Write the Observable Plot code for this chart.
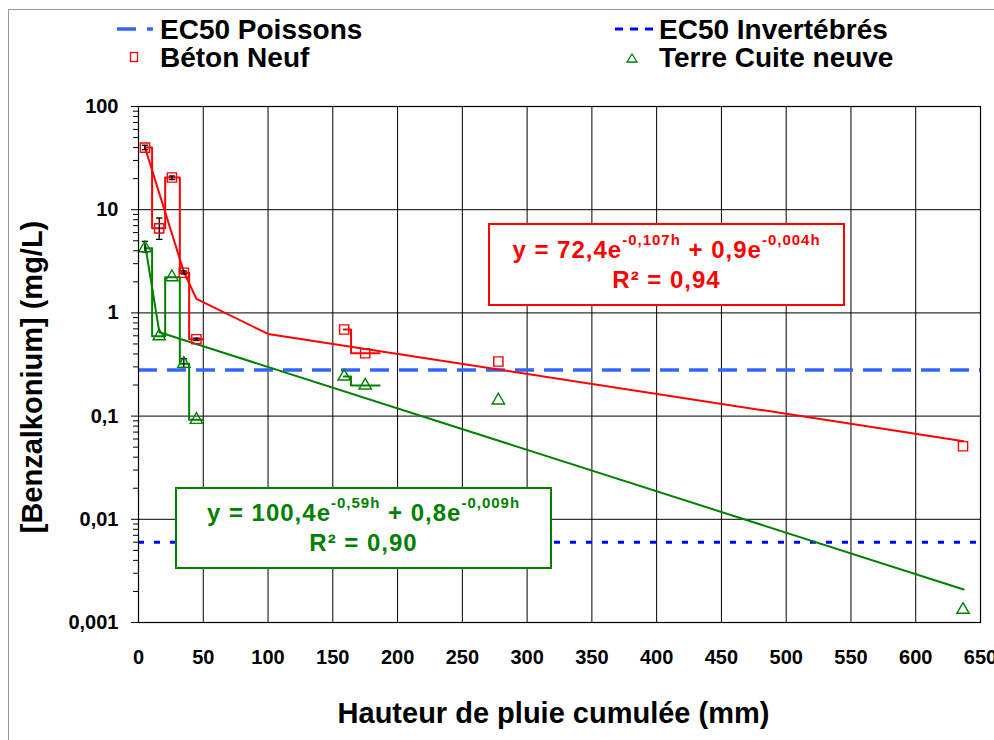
<!DOCTYPE html>
<html><head><meta charset="utf-8">
<script src="https://cdn.jsdelivr.net/npm/d3@7"></script>
<script src="https://cdn.jsdelivr.net/npm/@observablehq/plot@0.6"></script>
<style>
body{margin:0;background:#fff;}
#wrap{position:relative;width:994px;height:740px;overflow:hidden;background:#fff;font-family:"Liberation Sans",Arial,sans-serif;font-weight:bold;}
#border{position:absolute;left:8px;top:9px;width:1100px;height:900px;border-left:1.5px solid #9a9a9a;border-top:1.5px solid #9a9a9a;z-index:5;pointer-events:none;}
#legend{position:relative;height:96px;}
.lg{position:absolute;font-size:28px;line-height:28px;white-space:nowrap;color:#000;}
.eq{position:absolute;background:#fff;border:2px solid;box-sizing:border-box;text-align:center;font-size:24px;line-height:30px;letter-spacing:1px;display:flex;flex-direction:column;justify-content:center;z-index:4;white-space:nowrap;}
.eq sup{font-size:15px;vertical-align:baseline;position:relative;top:-13px;line-height:0;}
</style></head>
<body>
<div id="wrap">
  <div id="border"></div>
  <div id="legend">
    <svg width="994" height="96" style="position:absolute;left:0;top:0">
      <line x1="117" x2="153" y1="29" y2="29" stroke="#3366ff" stroke-width="3.5" stroke-dasharray="19,11"/>
      <line x1="615" x2="654" y1="29" y2="29" stroke="#0000ff" stroke-width="3" stroke-dasharray="8,7"/>
      <rect x="130.5" y="52.5" width="7" height="9" fill="none" stroke="#ff0000" stroke-width="1.3"/>
      <path d="M632,54 L637,62 L627,62 Z" fill="none" stroke="#008000" stroke-width="1.3"/>
    </svg>
    <span class="lg" style="left:160px;top:16px">EC50 Poissons</span>
    <span class="lg" style="left:659px;top:16px">EC50 Invertébrés</span>
    <span class="lg" style="left:160px;top:44px">Béton Neuf</span>
    <span class="lg" style="left:659px;top:44px">Terre Cuite neuve</span>
  </div>
  <div id="chart"></div>
  <div class="eq" style="left:488px;top:223px;width:357px;height:83px;color:#ff0000;border-color:#ff0000;">
    <div>y = 72,4e<sup>-0,107h</sup> + 0,9e<sup>-0,004h</sup></div>
    <div>R² = 0,94</div>
  </div>
  <div class="eq" style="left:175px;top:487px;width:377px;height:82px;color:#008000;border-color:#008000;">
    <div>y = 100,4e<sup>-0,59h</sup> + 0,8e<sup>-0,009h</sup></div>
    <div>R² = 0,90</div>
  </div>
</div>
<script>
// ---- data ----
const hauteur    = [5, 16, 25.8, 35, 44.7, 158.8, 175, 277.8, 636.5];
const betonNeuf  = [40, 6.6, 20.5, 2.45, 0.556, 0.69, 0.406, 0.338, 0.051];
const terreCuite = [4.24, 0.594, 2.22, 0.321, 0.092, 0.242, 0.198, 0.142, 0.00133];

const betonErrLow  = [38.2, 5.16, 19.6, 2.38, 0.54, null, null, null, null];
const betonErrHigh = [42.1, 8.3, 21.2, 2.55, 0.57, null, null, null, null];
const terreErrLow  = [3.89, null, null, 0.296, null, null, null, null, null];
const terreErrHigh = [4.93, null, null, 0.361, null, null, null, null, null];

const stepStart = [5, 10.5, 20.6, 31.9, 39.1, 158.5, 164.1];
const stepEnd   = [10.5, 20.6, 31.9, 39.1, 49.8, 164.1, 186.1];
const stepGroup = [1, 1, 1, 1, 1, 2, 2];

const betonFitX = [5, 35, 44.7, 100, 637];
const betonFitY = [40, 2.5, 1.37, 0.626, 0.0571];
const terreFitX = [5.2, 16.1, 637];
const terreFitY = [4.5, 0.65, 0.00209];

const ec50Poissons = 0.28;
const ec50Invertebres = 0.006;

const xTicks = [0, 50, 100, 150, 200, 250, 300, 350, 400, 450, 500, 550, 600, 650];
const xTickLabels = ["0","50","100","150","200","250","300","350","400","450","500","550","600","650"];
const yTicks = [0.001, 0.01, 0.1, 1, 10, 100];
const yTickLabels = ["0,001", "0,01", "0,1", "1", "10", "100"];
const xTitle = "Hauteur de pluie cumulée (mm)";
const yTitle = "[Benzalkonium] (mg/L)";

// ---- derived tables ----
const RED = "#ff0000", GREEN = "#008000";
const pts = (ys) => hauteur.map((x, i) => ({x, y: ys[i]}));
const steps = (ys) => {
  const out = [];
  stepStart.forEach((s, i) => {
    out.push({x: s, y: ys[i], g: stepGroup[i]});
    out.push({x: stepEnd[i], y: ys[i], g: stepGroup[i]});
  });
  return out;
};
const errs = (lo, hi) => hauteur.map((x, i) => ({x, lo: lo[i], hi: hi[i]})).filter(d => d.lo != null);
const fit = (xs, ys) => xs.map((x, i) => ({x, y: ys[i]}));
const yMinor = [];
yTicks.slice(0, -1).forEach(d => { for (let m = 2; m <= 9; m++) yMinor.push(m * d); });

const capSymbol = {draw(ctx, size) { const w = Math.sqrt(size / Math.PI); ctx.moveTo(-w, 0); ctx.lineTo(w, 0); }};

const betonErr = errs(betonErrLow, betonErrHigh);
const terreErr = errs(terreErrLow, terreErrHigh);

const chart = Plot.plot({
  width: 994, height: 644,
  marginLeft: 138, marginRight: 14, marginTop: 10, marginBottom: 118,
  x: {domain: [0, 650], label: null},
  y: {type: "log", domain: [0.001, 100], label: null},
  style: {fontFamily: "'Liberation Sans', Arial, sans-serif", fontSize: "20px", fontWeight: "bold", background: "white", color: "black", overflow: "visible"},
  marks: [
    Plot.gridX(xTicks, {stroke: "black", strokeOpacity: 1, strokeWidth: 1}),
    Plot.gridY(yTicks, {stroke: "black", strokeOpacity: 1, strokeWidth: 1}),
    Plot.ruleY([ec50Poissons], {stroke: "#3366ff", strokeWidth: 3.5, strokeDasharray: "19,10"}),
    Plot.ruleY([ec50Invertebres], {stroke: "#0000ff", strokeWidth: 3, strokeDasharray: "6,10"}),
    Plot.line(fit(betonFitX, betonFitY), {x: "x", y: "y", stroke: RED, strokeWidth: 2}),
    Plot.line(fit(terreFitX, terreFitY), {x: "x", y: "y", stroke: GREEN, strokeWidth: 2}),
    Plot.line(steps(betonNeuf), {x: "x", y: "y", z: "g", stroke: RED, strokeWidth: 2}),
    Plot.line(steps(terreCuite), {x: "x", y: "y", z: "g", stroke: GREEN, strokeWidth: 2}),
    Plot.ruleX(betonErr, {x: "x", y1: "lo", y2: "hi", stroke: "black", strokeWidth: 1.3}),
    Plot.ruleX(terreErr, {x: "x", y1: "lo", y2: "hi", stroke: "black", strokeWidth: 1.3}),
    Plot.dot(betonErr, {x: "x", y: "lo", symbol: capSymbol, r: 3.2, stroke: "black", strokeWidth: 1.3, fill: "none"}),
    Plot.dot(betonErr, {x: "x", y: "hi", symbol: capSymbol, r: 3.2, stroke: "black", strokeWidth: 1.3, fill: "none"}),
    Plot.dot(terreErr, {x: "x", y: "lo", symbol: capSymbol, r: 3.2, stroke: "black", strokeWidth: 1.3, fill: "none"}),
    Plot.dot(terreErr, {x: "x", y: "hi", symbol: capSymbol, r: 3.2, stroke: "black", strokeWidth: 1.3, fill: "none"}),
    Plot.dot(pts(betonNeuf), {x: "x", y: "y", symbol: "square", r: 5.2, stroke: RED, strokeWidth: 1.4, fill: "none"}),
    Plot.dot(pts(terreCuite), {x: "x", y: "y", symbol: "triangle", r: 4.6, stroke: GREEN, strokeWidth: 1.4, fill: "none"}),
    Plot.frame({stroke: "black", strokeWidth: 1.2}),
    Plot.axisY({ticks: yMinor, tickSize: 5, tickFormat: () => "", stroke: "black"}),
    Plot.axisY({ticks: yTicks, tickSize: 7, tickPadding: 13, tickFormat: d => yTickLabels[yTicks.indexOf(d)], stroke: "black", fill: "black", fontSize: 20}),
    Plot.axisX({ticks: xTicks, tickSize: 0, tickPadding: 27, tickFormat: d => xTickLabels[xTicks.indexOf(d)], fill: "black", fontSize: 20}),
    Plot.text([xTitle], {text: d => d, frameAnchor: "bottom", textAnchor: "middle", dx: -6, dy: 100, fontSize: 29, fontWeight: "bold", fill: "black"}),
    Plot.text([yTitle], {text: d => d, frameAnchor: "left", textAnchor: "middle", rotate: -90, dx: -106, dy: 12.5, fontSize: 29, fontWeight: "bold", fill: "black"})
  ]
});
document.getElementById("chart").append(chart);
</script>
</body></html>
